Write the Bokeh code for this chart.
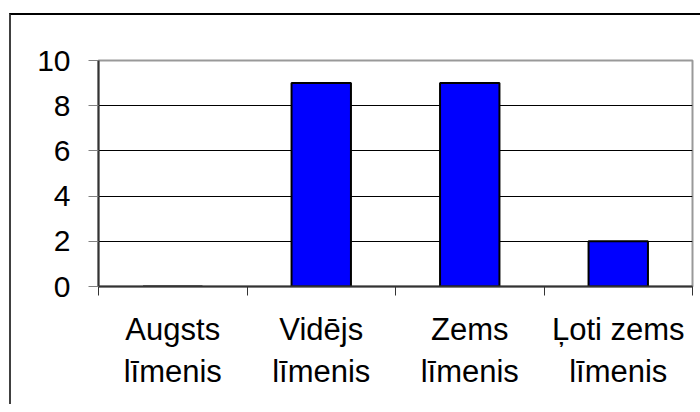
from bokeh.plotting import figure
from bokeh.models import FixedTicker, Range1d
from bokeh.embed import file_html
from bokeh.resources import INLINE

categories = ["Augsts\nlīmenis", "Vidējs\nlīmenis", "Zems\nlīmenis", "Ļoti zems\nlīmenis"]
values = [0, 9, 9, 2]
y_ticks = [0, 2, 4, 6, 8, 10]

xs = [i + 0.5 for i in range(len(categories))]

p = figure(frame_width=594, frame_height=226, output_backend="svg", toolbar_location=None,
           x_range=Range1d(0, len(categories)), y_range=Range1d(0, 10),
           min_border_left=87, min_border_top=45, min_border_right=8, min_border_bottom=118)
p.styles = {"border-top": "2px solid black", "border-left": "2px solid #404040",
            "margin-top": "13px", "margin-left": "9px"}
p.background_fill_color = "white"
p.border_fill_color = "white"
p.outline_line_color = "#999999"
p.outline_line_width = 2

p.vbar(x=xs, top=values, width=0.4, bottom=0, fill_color="#0000FF", line_color="black", line_width=2)

font = "Liberation Sans"
# y axis
p.yaxis.ticker = FixedTicker(ticks=y_ticks)
p.yaxis.major_label_text_font = font
p.yaxis.major_label_text_font_size = "30px"
p.yaxis.major_label_text_color = "black"
p.yaxis.major_tick_out = 10
p.yaxis.major_tick_in = 0
p.yaxis.major_tick_line_color = "#808080"
p.yaxis.minor_tick_line_color = None
p.yaxis.axis_line_color = "#333333"
p.yaxis.axis_line_width = 2
p.yaxis.major_label_standoff = 18

# x axis
p.xaxis.ticker = FixedTicker(ticks=xs, minor_ticks=list(range(len(categories) + 1)))
p.xaxis.major_label_overrides = {x: c for x, c in zip(xs, categories)}
p.xaxis.major_label_text_font = font
p.xaxis.major_label_text_font_size = "31px"
p.xaxis.major_label_text_color = "black"
p.xaxis.major_label_text_line_height = 1.22
p.xaxis.major_tick_out = 0
p.xaxis.major_tick_in = 0
p.xaxis.minor_tick_out = 9
p.xaxis.minor_tick_in = 0
p.xaxis.minor_tick_line_color = "#333333"
p.xaxis.axis_line_color = "#333333"
p.xaxis.axis_line_width = 2
p.xaxis.major_label_standoff = 16

p.xgrid.grid_line_color = None
p.ygrid.ticker = FixedTicker(ticks=[2, 4, 6, 8])
p.ygrid.grid_line_color = "black"
p.ygrid.grid_line_width = 1

open("out.html", "w").write(file_html(p, INLINE))
